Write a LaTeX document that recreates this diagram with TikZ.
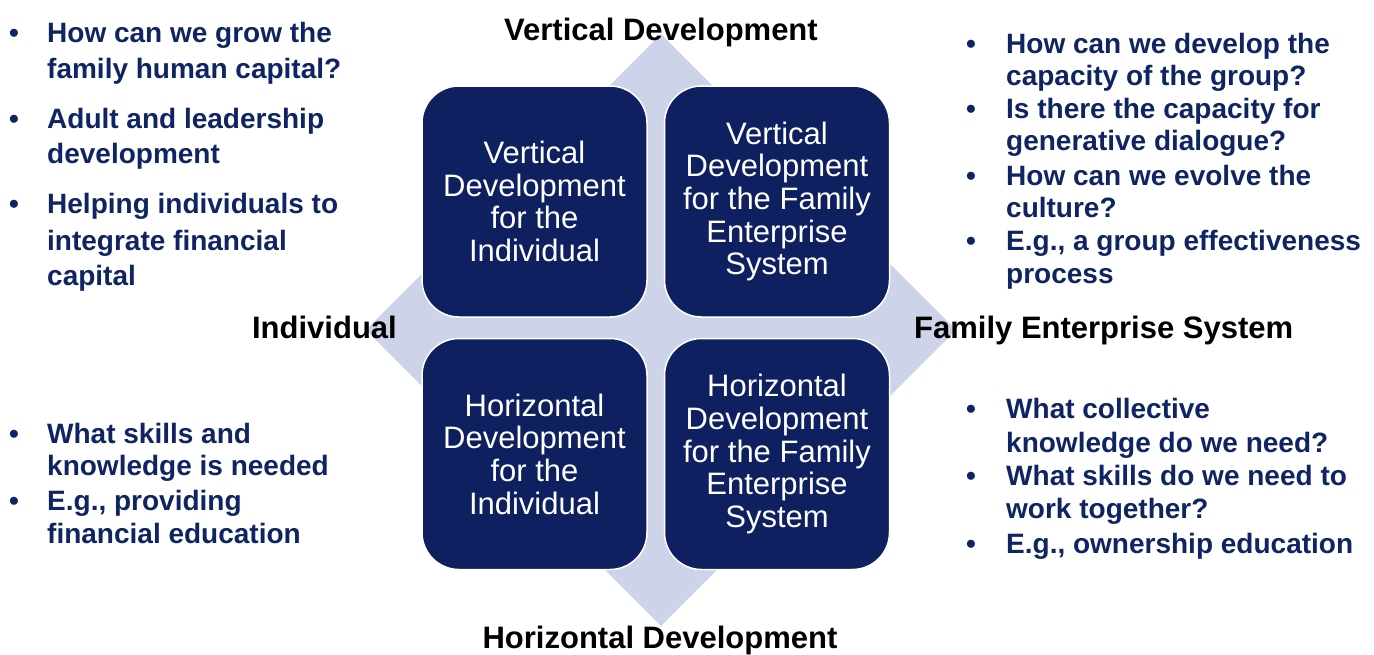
\documentclass[tikz,border=0pt]{standalone}
\usepackage{fontspec}
\setmainfont{Liberation Sans}
\definecolor{navy}{HTML}{0E2060}
\definecolor{txtnavy}{HTML}{0F2463}
\definecolor{diam}{HTML}{CDD3E8}
\tikzset{
  quad/.style={draw=white, line width=1.5pt, fill=navy, rounded corners=37pt,
    minimum width=225pt, minimum height=231pt, inner sep=0pt,
    text=white, align=center, font=\fontsize{31}{32.7}\selectfont},
  axislbl/.style={font=\bfseries\fontsize{31}{33}\selectfont, text=black, inner sep=0pt},
  bl/.style={font=\bfseries\fontsize{28}{33}\selectfont, text=txtnavy, inner sep=0pt, anchor=base west},
}
\begin{document}
\begin{tikzpicture}[x=1pt,y=-1pt]
\useasboundingbox (0,0) rectangle (1374,654);
% background diamond
\fill[diam] (661,34) -- (956,330) -- (661,626) -- (366,330) -- cycle;
% quadrant boxes
\node[quad] (vi) at (534.5,201.5) {Vertical\\Development\\for the\\Individual};
\node[quad] (vf) at (777,201.5) {Vertical\\Development\\for the Family\\Enterprise\\System};
\node[quad] (hi) at (534.5,454) {Horizontal\\Development\\for the\\Individual};
\node[quad] (hf) at (777,454) {Horizontal\\Development\\for the Family\\Enterprise\\System};
% axis labels
\node[axislbl, anchor=base] (vd) at (661,40) {Vertical Development};
\node[axislbl, anchor=base] (hd) at (660,648) {Horizontal Development};
\node[axislbl, anchor=base east] (ind) at (397,338) {Individual};
\node[axislbl, anchor=base west] (fes) at (914,338) {Family Enterprise System};
% left top list
\node[bl] (lt1) at (9,42) {•};
\node[bl] (lt1a) at (47,42) {How can we grow the};
\node[bl] (lt1b) at (47,78) {family human capital?};
\node[bl] (lt2) at (9,128) {•};
\node[bl] (lt2a) at (47,128) {Adult and leadership};
\node[bl] (lt2b) at (47,163) {development};
\node[bl] (lt3) at (9,213) {•};
\node[bl] (lt3a) at (47,213) {Helping individuals to};
\node[bl] (lt3b) at (47,250) {integrate financial};
\node[bl] (lt3c) at (47,285) {capital};
% right top list
\node[bl] (rt1) at (966,53) {•};
\node[bl] (rt1a) at (1006,53) {How can we develop the};
\node[bl] (rt1b) at (1006,85) {capacity of the group?};
\node[bl] (rt2) at (966,118) {•};
\node[bl] (rt2a) at (1006,118) {Is there the capacity for};
\node[bl] (rt2b) at (1006,150) {generative dialogue?};
\node[bl] (rt3) at (966,185) {•};
\node[bl] (rt3a) at (1006,185) {How can we evolve the};
\node[bl] (rt3b) at (1006,217) {culture?};
\node[bl] (rt4) at (966,250) {•};
\node[bl] (rt4a) at (1006,250) {E.g., a group effectiveness};
\node[bl] (rt4b) at (1006,283) {process};
% left bottom list
\node[bl] (lb1) at (9,443) {•};
\node[bl] (lb1a) at (47,443) {What skills and};
\node[bl] (lb1b) at (47,475) {knowledge is needed};
\node[bl] (lb2) at (9,510) {•};
\node[bl] (lb2a) at (47,510) {E.g., providing};
\node[bl] (lb2b) at (47,543) {financial education};
% right bottom list
\node[bl] (rb1) at (966,418) {•};
\node[bl] (rb1a) at (1006,418) {What collective};
\node[bl] (rb1b) at (1006,452) {knowledge do we need?};
\node[bl] (rb2) at (966,485) {•};
\node[bl] (rb2a) at (1006,485) {What skills do we need to};
\node[bl] (rb2b) at (1006,518) {work together?};
\node[bl] (rb3) at (966,553) {•};
\node[bl] (rb3a) at (1006,553) {E.g., ownership education};
\end{tikzpicture}
\end{document}
